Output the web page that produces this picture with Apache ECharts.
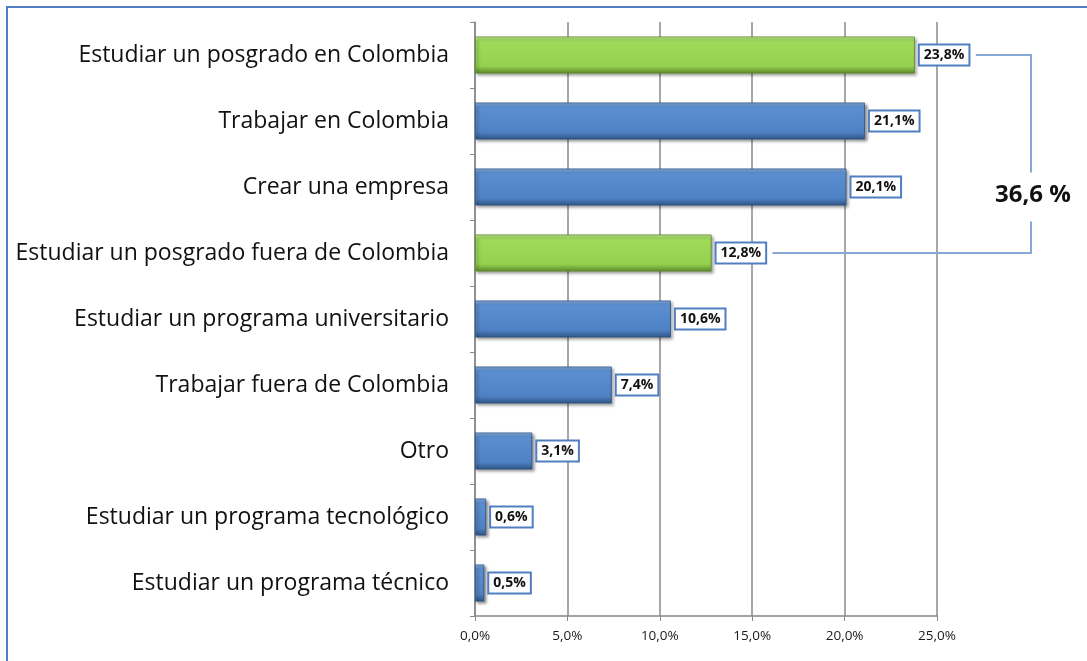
<!DOCTYPE html>
<html>
<head>
<meta charset="utf-8">
<script src="https://cdn.jsdelivr.net/npm/echarts@6/dist/echarts.min.js"></script>
<style>
  html, body { margin: 0; padding: 0; background: #fff; }
  #main { width: 1087px; height: 661px; }
</style>
</head>
<body>
<div id="main"></div>
<script>
// categorias (de arriba hacia abajo)
var categories = [
  'Estudiar un posgrado en Colombia',
  'Trabajar en Colombia',
  'Crear una empresa',
  'Estudiar un posgrado fuera de Colombia',
  'Estudiar un programa universitario',
  'Trabajar fuera de Colombia',
  'Otro',
  'Estudiar un programa tecnológico',
  'Estudiar un programa técnico'
];
var values = [23.8, 21.1, 20.1, 12.8, 10.6, 7.4, 3.1, 0.6, 0.5];
// barras resaltadas en verde (posgrado)
var highlighted = [0, 3];
var axisTicks = [0, 5, 10, 15, 20, 25];

function fmt(v) {
  return v.toFixed(1).replace('.', ',') + '%';
}

var blueFill = new echarts.graphic.LinearGradient(0, 0, 0, 1, [
  { offset: 0, color: '#8fb4e3' },
  { offset: 0.12, color: '#5b8fd2' },
  { offset: 0.8, color: '#4f82c4' },
  { offset: 1, color: '#2f5585' }
]);
var greenFill = new echarts.graphic.LinearGradient(0, 0, 0, 1, [
  { offset: 0, color: '#c4ee8f' },
  { offset: 0.12, color: '#9fdc5a' },
  { offset: 0.8, color: '#93d14f' },
  { offset: 1, color: '#5d8a2c' }
]);

var chart = echarts.init(document.getElementById('main'));

var option = {
  backgroundColor: '#ffffff',
  animation: false,
  grid: { left: 475, right: 150, top: 22, bottom: 45 },
  xAxis: {
    type: 'value',
    min: axisTicks[0],
    max: axisTicks[axisTicks.length - 1],
    interval: 5,
    axisLine: { show: true, lineStyle: { color: '#888', width: 1.5 } },
    axisTick: { show: true, length: 5, lineStyle: { color: '#888' } },
    splitLine: { show: true, lineStyle: { color: '#8a8a8a', width: 1.5 } },
    axisLabel: {
      color: '#1a1a1a', fontSize: 13.5, fontFamily: 'Open Sans', margin: 13,
      formatter: function (v) { return fmt(v); }
    }
  },
  yAxis: {
    type: 'category',
    inverse: true,
    data: categories,
    axisLine: { show: true, lineStyle: { color: '#888', width: 1.5 } },
    axisTick: { show: true, length: 5, lineStyle: { color: '#888' } },
    axisLabel: { color: '#111', fontSize: 23, fontFamily: 'Open Sans', margin: 26 }
  },
  series: [{
    type: 'bar',
    barCategoryGap: '44%',
    data: values.map(function (v, i) {
      return {
        value: v,
        itemStyle: {
          color: highlighted.indexOf(i) >= 0 ? greenFill : blueFill,
          borderColor: highlighted.indexOf(i) >= 0 ? '#5d8a2c' : '#2f5585',
          borderWidth: 0.8
        }
      };
    }),
    itemStyle: {
      shadowColor: 'rgba(0,0,0,0.45)',
      shadowBlur: 3,
      shadowOffsetX: 2,
      shadowOffsetY: 2
    },
    label: {
      show: true,
      position: 'right',
      distance: 5,
      formatter: function (p) { return fmt(p.value); },
      color: '#111',
      fontSize: 14,
      fontWeight: 'bold',
      fontFamily: 'Open Sans',
      backgroundColor: '#fff',
      borderColor: '#4f7fc0',
      borderWidth: 2,
      padding: [3, 4, 2, 4]
    }
  }]
};

chart.setOption(option);

// corchete que agrupa los posgrados
var a = highlighted[0], b = highlighted[1];
var total = values[a] + values[b];
var pTop = chart.convertToPixel({ gridIndex: 0 }, [values[a], a]);
var pBot = chart.convertToPixel({ gridIndex: 0 }, [values[b], b]);
var bx = chart.convertToPixel({ gridIndex: 0 }, [axisTicks[axisTicks.length - 1], 0])[0] + 94;
var ty = pTop[1] + (pBot[1] - pTop[1]) * 0.71;
var lineStyle = { stroke: '#86a9d6', lineWidth: 2 };

chart.setOption({
  graphic: [
    {
      type: 'rect', silent: true,
      shape: { x: 7, y: 7, width: 1200, height: 700 },
      style: { fill: 'none', stroke: '#4f7fc0', lineWidth: 2 }
    },
    {
      type: 'polyline', silent: true,
      shape: { points: [[pTop[0] + 61, pTop[1]], [bx, pTop[1]], [bx, ty - 23]] },
      style: lineStyle
    },
    {
      type: 'polyline', silent: true,
      shape: { points: [[bx, ty + 26], [bx, pBot[1]], [pBot[0] + 61, pBot[1]]] },
      style: lineStyle
    },
    {
      type: 'text', silent: true,
      x: bx + 2, y: ty,
      style: {
        text: total.toFixed(1).replace('.', ',') + ' %',
        fill: '#111', fontSize: 24, fontWeight: 'bold', fontFamily: 'Open Sans',
        align: 'center', verticalAlign: 'middle'
      }
    }
  ]
});
</script>
</body>
</html>
